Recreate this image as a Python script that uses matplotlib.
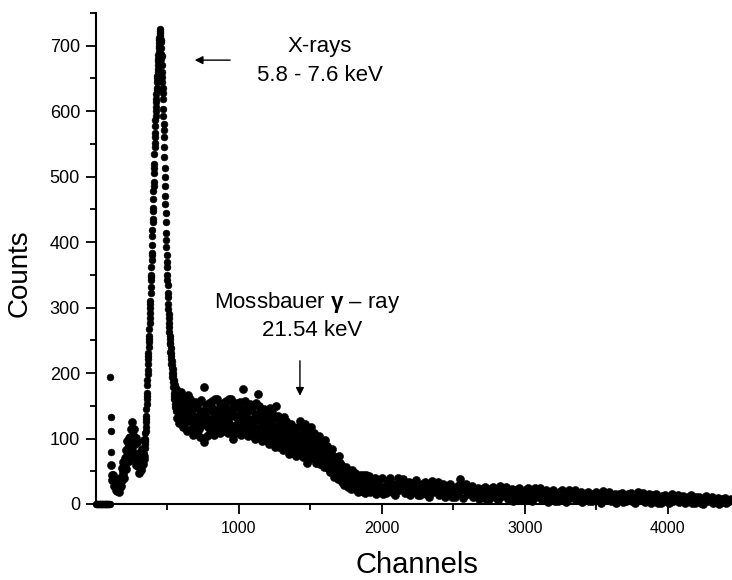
import numpy as np
from matplotlib import pyplot as plt

# Mossbauer source spectrum: counts per channel

zero_ch = np.arange(0, 100, 5)
zero_counts = [0] * 20

spike_ch = [100, 102, 104, 106]
spike_counts = [194, 133, 111, 79]

low_ch = np.arange(108, 340, 3)
low_counts = [60, 37, 45, 37, 45, 27, 34, 37, 27, 36, 21, 26,
              32, 20, 25, 22, 27, 19, 25, 31, 26, 39, 27, 38,
              55, 36, 51, 46, 64, 40, 60, 71, 57, 82, 54, 72,
              96, 65, 86, 77, 101, 65, 90, 103, 82, 114, 74, 96,
              125, 83, 106, 92, 115, 70, 92, 100, 73, 101, 60, 75,
              95, 58, 74, 62, 78, 48, 64, 71, 56, 75, 52, 65,
              84, 61, 78, 74, 97, 68]

rise_counts = [85, 92, 100, 96, 108, 118, 112, 126, 135, 130,
               145, 152, 160, 170, 165, 182, 190, 198, 205, 214,
               222, 230, 226, 240, 248, 256, 252, 268, 276, 284,
               292, 300, 310, 306, 322, 332, 342, 350, 346, 362,
               372, 384, 380, 396, 410, 418, 430, 436, 452, 448,
               466, 478, 486, 492, 506, 514, 520, 534, 546, 552,
               560, 566, 578, 586, 592, 600, 606, 614, 618, 626,
               632, 636, 644, 650, 654, 660, 664, 670, 676, 680,
               686, 690, 696, 700, 704, 708, 712, 716, 720, 726]
rise_ch = np.linspace(341, 447, len(rise_counts))

fall_counts = [722, 714, 706, 708, 696, 688, 680, 684, 670, 660,
               652, 644, 636, 628, 618, 604, 592, 580, 572, 560,
               546, 530, 514, 500, 486, 470, 458, 444, 430, 414,
               404, 392, 380, 370, 362, 350, 342, 334, 322, 316,
               306, 298, 290, 284, 276, 270, 262, 256, 252, 246,
               244, 232, 238, 222, 230, 214, 226, 208, 218, 200,
               212, 194, 206, 186, 200, 178, 196, 170, 190, 165,
               186, 160, 182, 152, 178, 148, 174, 145, 170, 142]
fall_ch = np.linspace(449, 560, len(fall_counts))

plat_ch = np.arange(562, 1906, 4)
plat_counts = [176, 132, 155, 142, 168, 124, 150, 163, 137, 171, 127, 147,
               117, 155, 134, 163, 123, 147, 112, 142, 166, 128, 150, 139,
               161, 114, 139, 125, 153, 106, 134, 147, 120, 156, 109, 131,
               109, 148, 125, 156, 114, 139, 103, 134, 159, 120, 142, 131,
               178, 95, 137, 123, 151, 104, 132, 145, 118, 154, 107, 129,
               111, 149, 128, 157, 117, 141, 106, 136, 160, 122, 144, 133,
               160, 116, 139, 126, 152, 108, 134, 147, 121, 155, 111, 131,
               113, 150, 129, 157, 118, 142, 108, 137, 160, 124, 144, 134,
               160, 115, 139, 100, 152, 107, 134, 147, 120, 155, 110, 131,
               111, 148, 127, 156, 117, 140, 106, 135, 176, 122, 143, 133,
               157, 112, 136, 123, 149, 104, 130, 144, 117, 152, 107, 128,
               105, 143, 122, 151, 111, 135, 100, 130, 154, 116, 138, 168,
               150, 104, 128, 115, 142, 96, 123, 136, 110, 145, 99, 120,
               97, 135, 114, 143, 103, 127, 92, 122, 146, 108, 130, 119,
               140, 95, 119, 106, 132, 87, 114, 150, 100, 135, 90, 111,
               87, 123, 102, 130, 92, 115, 82, 110, 133, 97, 118, 108,
               127, 85, 107, 95, 120, 77, 102, 115, 90, 122, 80, 100,
               78, 109, 91, 116, 82, 102, 73, 98, 118, 87, 105, 95,
               127, 80, 105, 91, 119, 72, 100, 113, 86, 122, 75, 97,
               62, 108, 88, 116, 78, 101, 68, 96, 118, 83, 103, 93,
               108, 70, 90, 79, 101, 63, 86, 97, 74, 104, 65, 83,
               61, 90, 73, 96, 65, 84, 57, 80, 98, 69, 86, 78,
               88, 55, 72, 63, 82, 49, 68, 78, 59, 84, 51, 67,
               42, 67, 52, 72, 45, 61, 38, 58, 74, 49, 63, 56,
               60, 34, 48, 40, 55, 29, 44, 52, 37, 57, 31, 43,
               26, 46, 35, 51, 29, 42, 23, 39, 52, 32, 43, 38,
               47, 23, 36, 29, 43, 19, 33, 40, 26, 44, 20, 32,
               20, 39, 28, 44, 23, 35, 17, 32, 45, 25, 37, 31]

tail_ch = np.arange(1910, 4450, 10)
tail_counts = [43, 19, 32, 25, 39, 15, 29, 36, 22, 40, 16, 28,
               17, 35, 24, 39, 19, 31, 14, 28, 40, 22, 32, 27,
               38, 17, 28, 22, 34, 13, 26, 32, 19, 36, 14, 24,
               13, 30, 21, 34, 16, 27, 11, 24, 35, 18, 28, 23,
               33, 13, 24, 18, 30, 10, 22, 27, 16, 31, 11, 20,
               11, 26, 17, 29, 38, 23, 9, 21, 30, 15, 24, 20,
               28, 10, 20, 14, 25, 7, 18, 23, 12, 26, 8, 16,
               8, 23, 14, 26, 10, 20, 6, 18, 27, 12, 21, 16,
               26, 8, 18, 12, 23, 5, 16, 21, 10, 24, 6, 14,
               6, 21, 12, 24, 8, 18, 4, 16, 25, 10, 19, 14,
               24, 6, 16, 10, 21, 3, 14, 19, 8, 22, 4, 12,
               5, 18, 11, 21, 7, 15, 3, 13, 22, 9, 16, 12,
               21, 6, 14, 9, 18, 3, 12, 16, 8, 19, 4, 11,
               4, 16, 9, 19, 6, 14, 2, 12, 20, 7, 15, 11,
               19, 5, 12, 8, 16, 2, 10, 15, 6, 17, 3, 10,
               4, 15, 8, 17, 5, 12, 2, 11, 18, 7, 13, 10,
               17, 3, 11, 7, 15, 1, 9, 13, 5, 15, 2, 8,
               2, 12, 7, 14, 4, 10, 1, 9, 15, 5, 11, 8,
               14, 3, 9, 6, 12, 1, 8, 11, 4, 13, 2, 7,
               1, 10, 5, 11, 2, 8, 0, 7, 12, 4, 8, 6,
               10, 2, 6, 4, 9, 0, 5, 8, 3, 9, 1, 5,
               4, 8]

x_major = [1000, 2000, 3000, 4000]
x_minor = [500, 1500, 2500, 3500]
y_major = list(range(0, 800, 100))
y_minor = list(range(50, 800, 100))

plt.rcParams['font.family'] = ['Liberation Sans', 'DejaVu Sans']
plt.rcParams['mathtext.fontset'] = 'custom'
plt.rcParams['mathtext.rm'] = 'Liberation Sans'
plt.rcParams['mathtext.bf'] = 'Liberation Sans:bold'

fig = plt.figure(figsize=(7.32, 5.80), dpi=100)
ax = fig.add_axes([96 / 732, 76 / 580, 636 / 732, 491 / 580])

# peak columns with the plain dot size, the noisy bands a touch heavier
thin = [(zero_ch, zero_counts), (spike_ch, spike_counts),
        (rise_ch, rise_counts), (fall_ch, fall_counts)]
thick = [(low_ch, low_counts), (plat_ch, plat_counts), (tail_ch, tail_counts)]
for ch, counts in thin:
    ax.plot(ch, counts, 'o', color='black', markersize=4.9, markeredgewidth=0.4, clip_on=False)
for ch, counts in thick:
    ax.plot(ch, counts, 'o', color='black', markersize=5.8, markeredgewidth=0.4, clip_on=False)

ax.set_xlim(0, 4450)
ax.set_ylim(0, 750)
ax.set_xticks(x_major)
ax.set_xticks(x_minor, minor=True)
ax.set_yticks(y_major)
ax.set_yticks(y_minor, minor=True)

for side in ['top', 'right']:
    ax.spines[side].set_visible(False)
for side in ['left', 'bottom']:
    ax.spines[side].set_linewidth(1.5)

ax.tick_params(which='major', length=7.5, width=1.3)
ax.tick_params(which='minor', length=4, width=1.3)
ax.tick_params(axis='x', labelsize=11.5, pad=5)
ax.tick_params(axis='y', labelsize=13, pad=4)

ax.set_xlabel('Channels', fontsize=21)
ax.set_ylabel('Counts', fontsize=20)
ax.xaxis.set_label_coords(0.505, -0.096)
ax.yaxis.set_label_coords(-0.099, 0.47)

# X-ray peak label and arrow
ax.text(1566, 690, 'X-rays', fontsize=16, ha='center', va='baseline')
ax.text(1566, 646, '5.8 - 7.6 keV', fontsize=16, ha='center', va='baseline')
ax.annotate('', xy=(671, 678), xytext=(958, 678),
            arrowprops=dict(arrowstyle='-|>', color='black', lw=1, mutation_scale=12))

# Mossbauer line label and arrow
ax.text(1475, 300, r'Mossbauer $\mathbf{\gamma}$ – ray', fontsize=16, ha='center', va='baseline')
ax.text(1510, 256, '21.54 keV', fontsize=16, ha='center', va='baseline')
ax.annotate('', xy=(1427, 161), xytext=(1427, 223),
            arrowprops=dict(arrowstyle='-|>', color='black', lw=1, mutation_scale=12))

plt.savefig('out.png', dpi=100)
